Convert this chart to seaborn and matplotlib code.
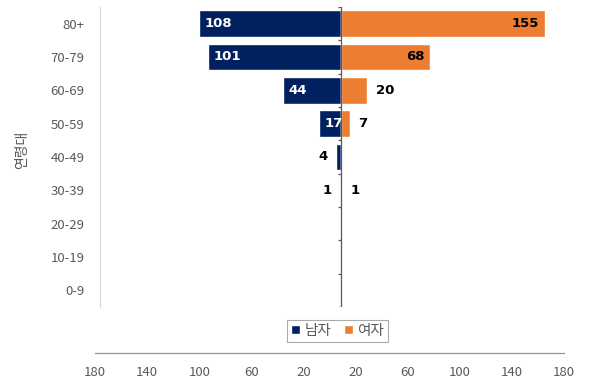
import numpy as np
import pandas as pd
import matplotlib
matplotlib.use("Agg")
from matplotlib import pyplot as plt
from matplotlib.patches import Patch
import seaborn as sns

ages = ["80+", "70-79", "60-69", "50-59", "40-49", "30-39", "20-29", "10-19", "0-9"]
male = [108, 101, 44, 17, 4, 1, 0, 0, 0]
female = [155, 68, 20, 7, 0, 1, 0, 0, 0]
axis_ticks = [-180, -140, -100, -60, -20, 20, 60, 100, 140, 180]

navy = "#002060"
orange = "#ED7D31"
grey = "#595959"

sns.set_style("white")
plt.rcParams["font.family"] = ["Noto Sans CJK KR", "DejaVu Sans"]

df = pd.DataFrame({
    "age": ages * 2,
    "sex": ["남자"] * len(ages) + ["여자"] * len(ages),
    "value": [-v for v in male] + female,
})

fig = plt.figure(figsize=(6.02, 3.84), dpi=100)
W, H = 602, 384
ax = fig.add_axes([100 / W, 1 - 307 / H, 482 / W, 300 / H])

sns.barplot(data=df, x="value", y="age", hue="sex", order=ages, dodge=False,
            palette={"남자": navy, "여자": orange}, width=0.8, saturation=1,
            orient="h", ax=ax, legend=False)

ax.set_xlim(-183.5, 183.5)
ax.set_ylim(len(ages) - 0.5, -0.5)
ax.set_xlabel("")
ax.set_ylabel("")
ax.xaxis.set_visible(False)
for s in ["top", "right", "bottom"]:
    ax.spines[s].set_visible(False)
ax.spines["left"].set_color("#D9D9D9")
ax.spines["left"].set_linewidth(0.8)
ax.tick_params(axis="y", length=0, pad=11, labelsize=9.5, labelcolor=grey)

# center axis with boundary ticks
ax.axvline(0, color=grey, lw=0.9, zorder=3)
bounds = np.arange(len(ages) + 1) - 0.5
ax.hlines(bounds, -2.5, 0, color=grey, lw=0.9, zorder=3)

# data labels
lab = dict(va="center", fontsize=9.5, fontweight="bold", family="DejaVu Sans",
           textcoords="offset points")
for i, (m, f) in enumerate(zip(male, female)):
    if m > 0:
        if m >= 10:
            ax.annotate(str(m), (-m, i), xytext=(4, 0), ha="left", color="white", **lab)
        else:
            ax.annotate(str(m), (-m, i), xytext=(-6, 0), ha="right", color="black", **lab)
    if f > 0:
        if f >= 30:
            ax.annotate(str(f), (f, i), xytext=(-4, 0), ha="right", color="black", **lab)
        else:
            ax.annotate(str(f), (f, i), xytext=(6, 0), ha="left", color="black", **lab)

# separate bottom axis
axb = fig.add_axes([95 / W, 1 - 353 / H, 469 / W, 0.001])
axb.set_xlim(-180, 180)
axb.set_xticks(axis_ticks)
axb.set_xticklabels([str(abs(t)) for t in axis_ticks])
axb.set_yticks([])
axb.patch.set_visible(False)
for s in ["top", "right", "left"]:
    axb.spines[s].set_visible(False)
axb.spines["bottom"].set_color("#969696")
axb.spines["bottom"].set_linewidth(0.9)
axb.tick_params(axis="x", direction="out", length=4, color="#969696",
                labelsize=9.5, labelcolor=grey, pad=5)

# y label
fig.text(22 / W, 1 - 150 / H, "연령대", rotation=90, ha="center", va="center",
         fontsize=10, color=grey)

# legend
handles = [Patch(facecolor=navy, label="남자"), Patch(facecolor=orange, label="여자")]
leg = fig.legend(handles=handles, loc="center", bbox_to_anchor=(337.5 / W, 1 - 331 / H),
                 ncol=2, fontsize=10.5, frameon=True, fancybox=False,
                 handlelength=0.6, handleheight=0.6, handletextpad=0.3,
                 columnspacing=0.9, borderpad=0.25, labelcolor=grey)
leg.get_frame().set_edgecolor("#969696")
leg.get_frame().set_linewidth(0.8)

fig.savefig("out.png", dpi=100)
